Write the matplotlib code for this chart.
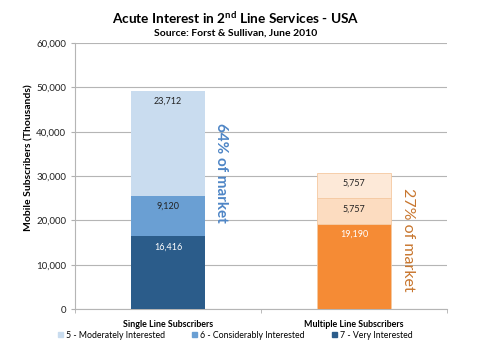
import matplotlib
matplotlib.use("Agg")
import matplotlib.pyplot as plt
import numpy as np
from matplotlib.patches import Patch

categories = ["Single Line Subscribers", "Multiple Line Subscribers"]
series_names = ["5 - Moderately Interested", "6 - Considerably Interested", "7 - Very Interested"]
very = [16416, 19190]
considerably = [9120, 5757]
moderately = [23712, 5757]
market_share = ["64% of market", "27% of market"]

plt.rcParams['font.family'] = ['Lato', 'DejaVu Sans']

fig = plt.figure(figsize=(4.81, 3.59), dpi=100)
ax = fig.add_axes([0.156, 0.139, 0.773, 0.741])

x = np.arange(len(categories))
w = 0.4
blue_cols = ["#2b5c8a", "#6a9fd3", "#c9dcef"]
orange_cols = ["#f58b35", "#fcdcc0", "#fde9d8"]
stack = [very, considerably, moderately]
bottoms = np.zeros(2)
for i, vals in enumerate(stack):
    cols = [blue_cols[i], orange_cols[i]]
    bars = ax.bar(x, vals, w, bottom=bottoms, color=cols, edgecolor=["none", "#f5c9a0"], linewidth=0.6, zorder=3)
    for j, b in enumerate(bars):
        txtcol = "white" if i == 0 else "#222222"
        top = bottoms[j] + vals[j]
        ax.text(x[j], top - 2400, f"{vals[j]:,}", ha="center", va="center",
                fontsize=6.5, color=txtcol, zorder=4)
    bottoms = bottoms + np.array(vals)

handles = [Patch(color=blue_cols[2]), Patch(color=blue_cols[1]), Patch(color=blue_cols[0])]
fig.legend(handles, series_names, loc="center", bbox_to_anchor=(0.489, 0.066), ncol=3,
           frameon=False, fontsize=6.3, handlelength=0.6, handleheight=0.6, handletextpad=0.3,
           columnspacing=3.1)

ax.text(x[0] + 0.245, bottoms[0] - 7200, market_share[0], rotation=-90, ha="left", va="top",
        fontsize=11, fontweight="bold", color="#4f86c6")
ax.text(x[1] + 0.255, bottoms[1] - 3300, market_share[1], rotation=-90, ha="left", va="top",
        fontsize=11.5, color="#c8762e")

ax.set_xlim(-0.5, 1.5)
ax.set_ylim(0, 60000)
ax.set_yticks(np.arange(0, 60001, 10000))
ax.yaxis.set_major_formatter(matplotlib.ticker.FuncFormatter(lambda v, p: f"{int(v):,}"))
ax.tick_params(axis="y", labelsize=7, length=3, color="#b0b0b0", labelcolor="#222222")
ax.set_xticks(x)
ax.set_xticklabels(categories, fontsize=6.4, fontweight="bold")
ax.tick_params(axis="x", length=0, pad=8)
ax.set_xticks([-0.5, 0.5, 1.5], minor=True)
ax.tick_params(axis="x", which="minor", length=3, color="#b0b0b0")
ax.grid(axis="y", color="#b5b5b5", linewidth=0.8, zorder=0)
for s in ["top", "right"]:
    ax.spines[s].set_visible(False)
ax.spines["left"].set_color("#b5b5b5")
ax.spines["bottom"].set_color("#b5b5b5")
ax.set_ylabel("Mobile Subscribers (Thousands)", fontsize=7.5, fontweight="bold", labelpad=0)
ax.yaxis.set_label_coords(-0.113, 0.57)

fig.text(0.49, 0.952, "Acute Interest in 2$^{\\mathregular{nd}}$ Line Services - USA",
         ha="center", va="center", fontsize=9.8, fontweight="bold")
fig.text(0.49, 0.907, "Source: Forst & Sullivan, June 2010", ha="center", va="center",
         fontsize=7.5, fontweight="bold")

fig.savefig("out.png", dpi=100)
